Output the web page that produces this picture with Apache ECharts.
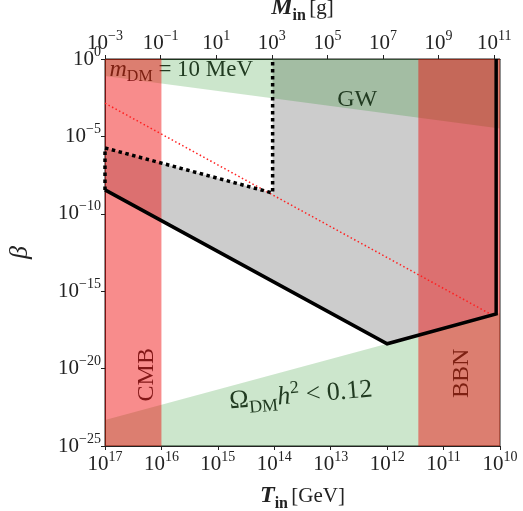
<!DOCTYPE html>
<html>
<head>
<meta charset="utf-8">
<script src="https://cdn.jsdelivr.net/npm/echarts@6/dist/echarts.min.js"></script>
<style>html,body{margin:0;padding:0;background:#fff}#c{width:523px;height:511px}</style>
</head>
<body>
<div id="c"></div>
<script>
// ---- tick labels (exponents of 10) ----
const tTickExps = [17, 16, 15, 14, 13, 12, 11, 10];      // T_in [GeV]
const mTickExps = [-3, -1, 1, 3, 5, 7, 9, 11];           // M_in [g]
const betaTickExps = [0, -5, -10, -15, -20, -25];        // beta

// ---- axis ranges ----
const tRange = [1e10, 1e17];
const mRange = [1e-3, 1.62e11];
const betaRange = [1e-25, 1];

// ---- bands ----
const cmbT = [1e17, 1e16];
const bbnT = [2.8e11, 1e10];

// ---- GW band (upper region) ----
const gwT = [1e17, 1e17, 1e10, 1e10];
const gwBeta = [1, 7.9e-2, 3.2e-5, 1];

// ---- relic abundance region (Omega_DM h^2 < 0.12) ----
const omegaT = [1e17, 1e17, 1e12, 1.17e10, 1e10, 1e10];
const omegaBeta = [1e-25, 4.8e-24, 4.0e-19, 3.4e-17, 3.9e-17, 1e-25];

// ---- excluded gray region ----
const grayT = [1e17, 1e12, 1.17e10, 1.17e10, 1.07e14, 1.07e14, 1e17];
const grayBeta = [3.5e-9, 4.0e-19, 3.4e-17, 1, 1, 2.2e-9, 1.8e-6];

// ---- solid black boundary ----
const solidT = [1e17, 1e12, 1.17e10, 1.17e10];
const solidBeta = [3.5e-9, 4.0e-19, 3.4e-17, 1];

// ---- dotted black boundary ----
const dottedT = [1e17, 1e17, 1.07e14, 1.07e14];
const dottedBeta = [3.5e-9, 1.8e-6, 2.2e-9, 1];

// ---- red dotted line ----
const redT = [1e17, 1.45e10];
const redBeta = [1.4e-3, 3.2e-17];

const L = Math.log10;
const serif = '"Liberation Serif","DejaVu Serif",serif';

function pts(ts, bs) { return ts.map((t, i) => [L(t), L(bs[i])]); }

function polySeries(points, color, z) {
  return {
    type: 'custom', coordinateSystem: 'cartesian2d', xAxisIndex: 0, yAxisIndex: 0,
    data: [0], z: z, silent: true, clip: true,
    renderItem: (params, api) => ({
      type: 'polygon',
      shape: { points: points.map(p => api.coord(p)) },
      style: { fill: color }
    })
  };
}

function lineSeries(points, color, width, dash, z) {
  return {
    type: 'line', xAxisIndex: 0, yAxisIndex: 0, data: points, symbol: 'none',
    z: z, silent: true, animation: false, clip: true,
    lineStyle: { color: color, width: width, type: dash, cap: 'butt', join: 'miter' }
  };
}

function textSeries(x, y, text, rich, rotation, align, color, size, z) {
  return {
    type: 'custom', coordinateSystem: 'cartesian2d', xAxisIndex: 0, yAxisIndex: 0,
    data: [0], z: z, silent: true,
    renderItem: (params, api) => {
      const p = api.coord([x, y]);
      return {
        type: 'text', x: p[0], y: p[1], rotation: rotation,
        style: { text: text, rich: rich, fill: color, font: size + 'px ' + serif,
                 align: align, verticalAlign: 'middle' }
      };
    }
  };
}

function powLabel(v) {
  const n = Math.round(v);
  const s = n < 0 ? '\u2212' + (-n) : '' + n;
  return '{b|10}{s|' + s + '}';
}
const tickRich = {
  b: { fontFamily: serif, fontSize: 21, color: '#222', lineHeight: 28, verticalAlign: 'middle' },
  s: { fontFamily: serif, fontSize: 14, color: '#222', lineHeight: 14, verticalAlign: 'top' }
};

const bandRed = 'rgba(240,0,0,0.45)';
const green = 'rgba(0,128,0,0.2)';
const gray = 'rgba(128,128,128,0.4)';

const rangeBand = (t0, t1) => pts([t0, t0, t1, t1], [betaRange[0], betaRange[1], betaRange[1], betaRange[0]]);

const nameRich = {
  bi: { fontFamily: serif, fontStyle: 'italic', fontWeight: 'bold', fontSize: 24, color: '#222', lineHeight: 28, verticalAlign: 'middle' },
  bs: { fontFamily: serif, fontWeight: 'bold', fontSize: 16, color: '#222', lineHeight: 32, verticalAlign: 'bottom' },
  r: { fontFamily: serif, fontSize: 21, color: '#222', lineHeight: 28, verticalAlign: 'middle' }
};

const option = {
  animation: false,
  backgroundColor: '#fff',
  grid: { left: 105, top: 59, width: 395, height: 387, containLabel: false, outerBoundsMode: 'none',
          show: true, borderColor: '#222', borderWidth: 1, backgroundColor: 'transparent' },
  xAxis: [
    {
      type: 'value', position: 'bottom', inverse: true, min: L(tRange[0]), max: L(tRange[1]),
      axisLine: { show: true, onZero: false, lineStyle: { color: '#222' } },
      axisTick: { show: true, length: 4, lineStyle: { color: '#222' }, customValues: tTickExps },
      axisLabel: { customValues: tTickExps, formatter: powLabel, rich: tickRich, margin: 4 },
      splitLine: { show: false },
      name: '{bi|T}{bs|in} {r|[GeV]}', nameLocation: 'middle', nameGap: 34,
      nameTextStyle: { rich: nameRich }
    },
    {
      type: 'value', position: 'top', min: L(mRange[0]), max: L(mRange[1]),
      axisLine: { show: true, onZero: false, lineStyle: { color: '#222' } },
      axisTick: { show: true, length: 4, lineStyle: { color: '#222' }, customValues: mTickExps },
      axisLabel: { customValues: mTickExps, formatter: powLabel, rich: tickRich, margin: 2 },
      splitLine: { show: false },
      name: '{bi|M}{bs|in} {r|[g]}', nameLocation: 'middle', nameGap: 25,
      nameTextStyle: { rich: nameRich }
    }
  ],
  yAxis: {
    type: 'value', min: L(betaRange[0]), max: L(betaRange[1]),
    axisLine: { show: true, onZero: false, lineStyle: { color: '#222' } },
    axisTick: { show: true, length: 4, lineStyle: { color: '#222' }, customValues: betaTickExps },
    axisLabel: { customValues: betaTickExps, formatter: powLabel, rich: tickRich, margin: 4 },
    splitLine: { show: false },
    name: 'β', nameLocation: 'middle', nameGap: 72, nameRotate: 90,
    nameTextStyle: { fontFamily: serif, fontStyle: 'italic', fontSize: 26, color: '#222' }
  },
  series: [
    polySeries(pts(grayT, grayBeta), gray, 1),
    textSeries(16.92, -0.72, '{i|m}{s|DM} = 10 MeV', {
      i: { fontFamily: serif, fontStyle: 'italic', fontSize: 24, lineHeight: 28, verticalAlign: 'middle', fill: '#2a2a2a' },
      s: { fontFamily: serif, fontSize: 16, lineHeight: 30, verticalAlign: 'bottom', fill: '#2a2a2a' }
    }, 0, 'left', '#2a2a2a', 23, 2),
    textSeries(12.53, -2.6, 'GW', null, 0, 'center', '#2a2a2a', 24, 2),
    textSeries(16.26, -20.4, 'CMB', null, Math.PI / 2, 'center', '#2a2a2a', 24, 2),
    textSeries(10.67, -20.3, 'BBN', null, Math.PI / 2, 'center', '#2a2a2a', 24, 2),
    textSeries(13.53, -21.75, '{o|Ω}{s|DM}{i|h}{p|2}{o| < 0.12}', {
      o: { fontFamily: serif, fontSize: 26, lineHeight: 30, verticalAlign: 'middle', fill: '#2a2a2a' },
      i: { fontFamily: serif, fontStyle: 'italic', fontSize: 26, lineHeight: 30, verticalAlign: 'middle', fill: '#2a2a2a' },
      s: { fontFamily: serif, fontSize: 18, lineHeight: 34, verticalAlign: 'bottom', fill: '#2a2a2a' },
      p: { fontFamily: serif, fontSize: 18, lineHeight: 18, verticalAlign: 'top', fill: '#2a2a2a' }
    }, 0.085, 'center', '#2a2a2a', 26, 2),
    polySeries(pts(omegaT, omegaBeta), green, 3),
    polySeries(pts(gwT, gwBeta), green, 3),
    polySeries(rangeBand(cmbT[0], cmbT[1]), bandRed, 4),
    polySeries(rangeBand(bbnT[0], bbnT[1]), bandRed, 4),
    lineSeries(pts(redT, redBeta), '#ff2020', 1.5, [1.5, 2.5], 6),
    lineSeries(pts(dottedT, dottedBeta), '#000', 3.5, [3.5, 3.5], 6),
    lineSeries(pts(solidT, solidBeta), '#000', 3.5, 'solid', 7)
  ]
};

const chart = echarts.init(document.getElementById('c'), null, { renderer: 'canvas' });
chart.setOption(option);
</script>
</body>
</html>
